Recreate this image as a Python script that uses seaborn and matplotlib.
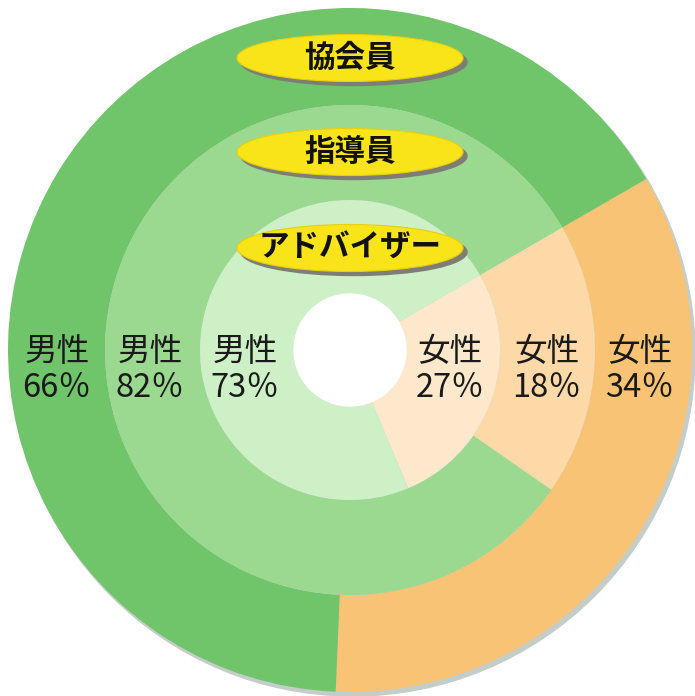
import matplotlib
matplotlib.use("Agg")
import matplotlib.pyplot as plt
from matplotlib.patches import Ellipse, Circle
import seaborn as sns

sns.set_theme(style="white")
plt.rcParams['font.family'] = ['Noto Sans CJK JP', 'DejaVu Sans']

# ---- data ----
rings = ["協会員", "指導員", "アドバイザー"]          # outer -> inner
genders = ["女性", "男性"]
female_pct = [34, 18, 27]
male_pct = [66, 82, 73]

# ---- style ----
green = ["#70c46a", "#9bd991", "#cdf0c6"]
orange = ["#f9c375", "#fcd9a6", "#fde8cc"]
radii = [342, 245, 150]
widths = [97, 95, 94]

fig = plt.figure(figsize=(6.95, 6.96), dpi=100)
ax = fig.add_axes([0, 0, 1, 1])

# shadow of outer disc
ax.add_patch(Circle((3, -4), 342, color="#c5cdc9", zorder=0))

for i in range(3):
    ax.pie([female_pct[i], male_pct[i]], radius=radii[i],
           colors=[orange[i], green[i]], startangle=30, counterclock=False,
           wedgeprops=dict(width=widths[i], linewidth=0, edgecolor="none"))

# white centre hole
ax.add_patch(Circle((0, 0), 56, color="white", zorder=4))

# ring title badges (pixel y from top -> data y)
title_y = [58, 152, 248]
for name, py in zip(rings, title_y):
    y = 350 - py
    ax.add_patch(Ellipse((4, y - 4), 226, 47, color="#7d7d76", zorder=5))
    ax.add_patch(Ellipse((0, y), 226, 47, facecolor="#f8e418",
                         edgecolor="#e6cf10", linewidth=0.8, zorder=6))
    ax.text(0, y, name, ha="center", va="center", fontsize=22,
            fontweight="bold", color="#111111", zorder=7)

# gender labels
male_x = [57, 150, 245]
female_x = [640, 547, 450]
for i in range(3):
    for gx, g, v in [(male_x[i], genders[1], male_pct[i]),
                     (female_x[i], genders[0], female_pct[i])]:
        x = gx - 350
        ax.text(x, 350 - 352, g, ha="center", va="center", fontsize=23.5,
                color="#1a1a1a", zorder=7)
        ax.text(x, 350 - 388, f"{v}％", ha="center", va="center",
                fontsize=23.5, color="#1a1a1a", zorder=7)

ax.set_xlim(-350, 345)
ax.set_ylim(-346, 350)
ax.set_aspect("equal")
ax.axis("off")
fig.savefig("out.png", dpi=100, facecolor="white")
